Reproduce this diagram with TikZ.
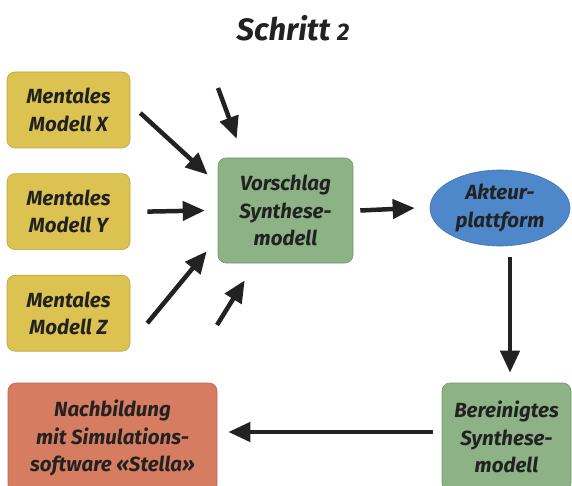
\documentclass[tikz,border=0pt]{standalone}
\usepackage{fontspec}
\setmainfont{Fira Sans}
\usetikzlibrary{positioning, arrows.meta, shapes.geometric}
\definecolor{mustard}{RGB}{220,194,80}
\definecolor{sage}{RGB}{140,178,134}
\definecolor{sky}{RGB}{78,136,202}
\definecolor{clay}{RGB}{214,124,96}
\definecolor{ink}{RGB}{34,34,34}

\begin{document}
\begin{tikzpicture}[
  x=1pt, y=-1pt,
  node distance=25pt and 40pt,
  lbl/.style={font=\fontsize{20.5}{27.5}\selectfont\bfseries\itshape,
              text=ink, align=center},
  mental/.style={lbl, fill=mustard, draw=mustard!85!black, line width=0.6pt,
                 rounded corners=8pt, minimum width=123pt, minimum height=76pt},
  synth/.style={lbl, fill=sage, draw=sage!85!black, line width=0.6pt,
                rounded corners=8pt, minimum width=135pt, minimum height=105pt},
  forum/.style={lbl, ellipse, fill=sky, draw=sky!85!black, line width=0.6pt,
                inner sep=0pt, minimum width=140pt, minimum height=76pt},
  simbox/.style={lbl, fill=clay, draw=clay!85!black, line width=0.6pt,
                 rounded corners=8pt, minimum width=209pt, minimum height=110pt},
  arr/.style={-{Triangle[length=22pt, width=19pt]}, line width=4.5pt, draw=ink},
]
  \useasboundingbox (0,0) rectangle (572,486);

  \node[font=\fontsize{31}{34}\selectfont\bfseries\itshape, text=ink] (title)
    at (293,28) {Schritt {\fontsize{24}{30}\selectfont 2}};

  % input models
  \node[mental] (mx) at (68.5,110) {Mentales\\Modell X};
  \node[mental, below=of mx] (my) {Mentales\\Modell Y};
  \node[mental, below=of my] (mz) {Mentales\\Modell Z};

  \node[synth] (vs) at (285.5,210.5) {Vorschlag\\Synthese-\\modell};
  \node[forum] (ap) at (500,208) {Akteur-\\plattform};
  \node[synth, minimum width=129pt, minimum height=108pt] (bs) at (506.5,437)
    {Bereinigtes\\Synthese-\\modell};
  \node[simbox] (nb) at (112.5,438) {Nachbildung\\mit Simulations-\\software «Stella»};

  % free ends of the short arrows
  \coordinate (in1) at (218,88);
  \coordinate (in2) at (217,325);

  \draw[arr] ([shift={(10,3)}]mx.east) -- ([shift={(-10,17)}]vs.north west);
  \draw[arr] ([xshift=17pt]my.east) -- ([xshift=-13pt]vs.west);
  \draw[arr] ([shift={(17,10)}]mz.east) -- ([shift={(-11,-12)}]vs.south west);
  \draw[arr] (in1) -- ([shift={(19,-19)}]vs.north west);
  \draw[arr] (in2) -- ([shift={(27,17)}]vs.south west);
  \draw[arr] ([xshift=7pt]vs.east) -- ([xshift=-15pt]ap.west);
  \draw[arr] ([shift={(10,11)}]ap.south) -- ([shift={(3.5,-10)}]bs.north);
  \draw[arr] ([shift={(-9,-5)}]bs.west) -- ([shift={(11,-6)}]nb.east);
\end{tikzpicture}
\end{document}
